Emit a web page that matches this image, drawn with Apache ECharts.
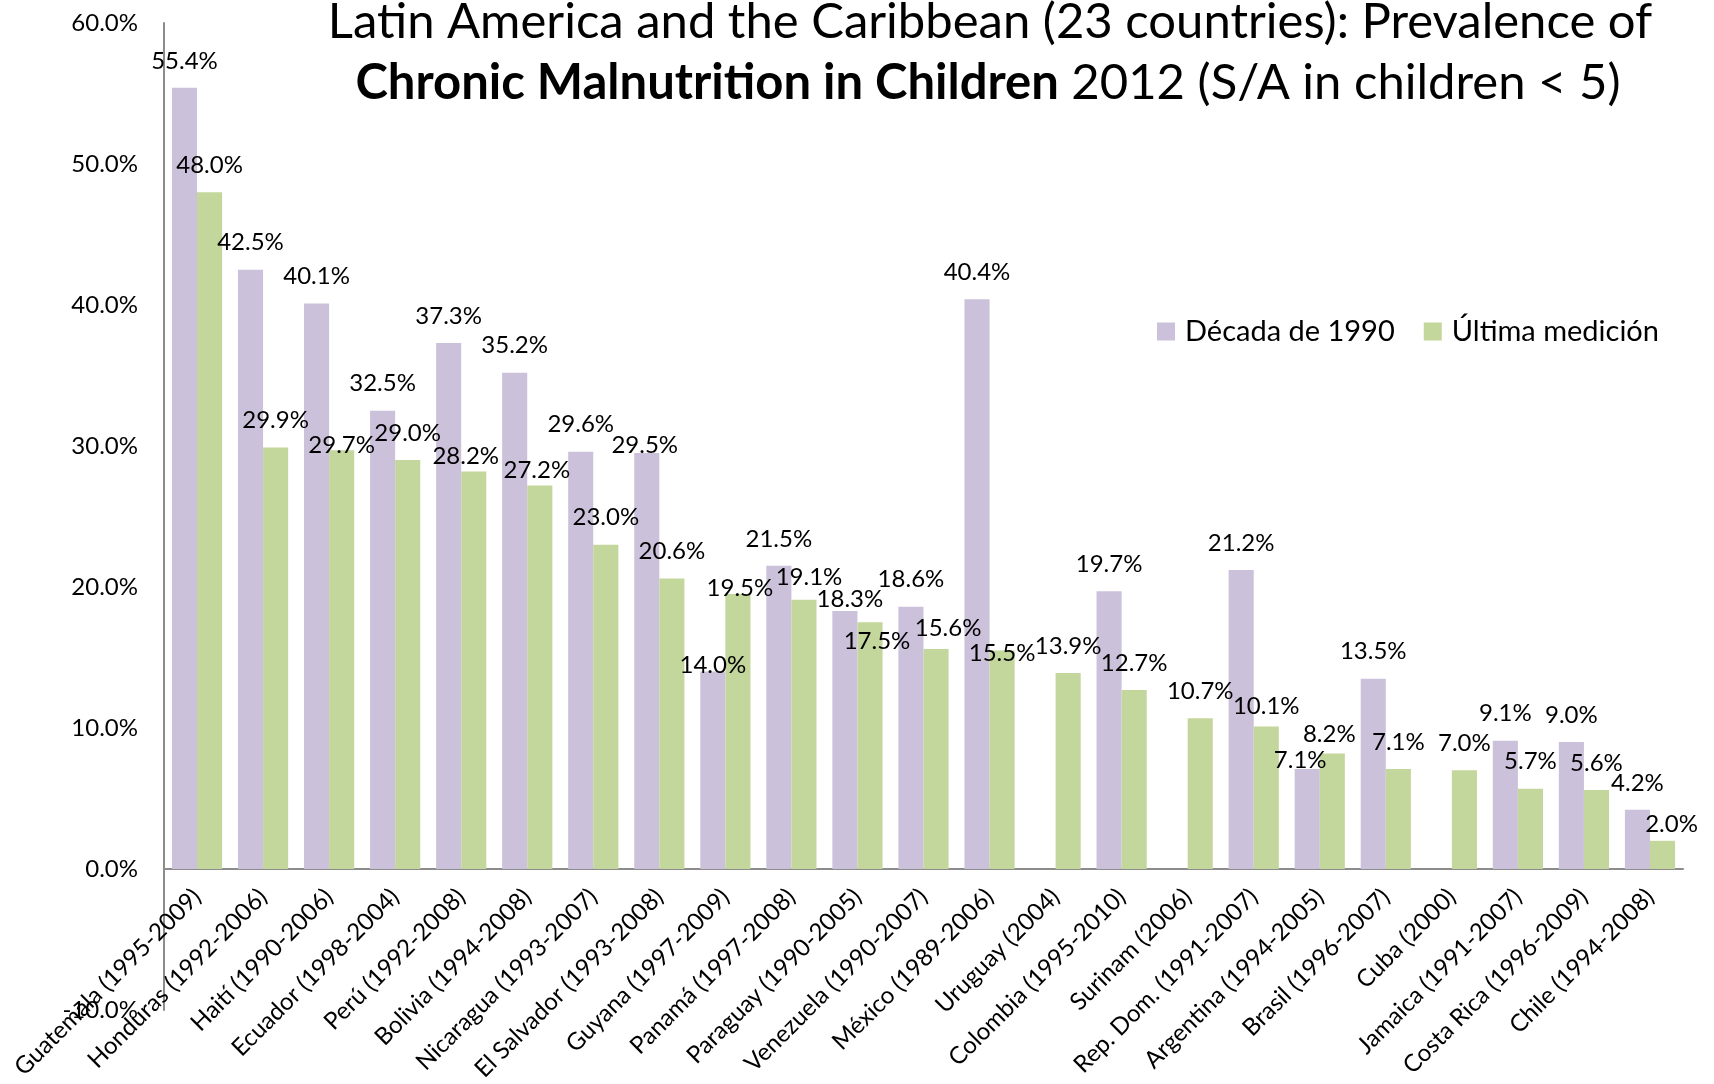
<!DOCTYPE html>
<html>
<head>
<meta charset="utf-8">
<script src="https://cdn.jsdelivr.net/npm/echarts@6/dist/echarts.min.js"></script>
<style>
html,body{margin:0;padding:0;background:#fff;}
#chart{width:1714px;height:1084px;}
</style>
</head>
<body>
<div id="chart"></div>
<script>
// ---- data ----
const categories = [
  'Guatemala (1995-2009)', 'Honduras (1992-2006)', 'Haití (1990-2006)', 'Ecuador (1998-2004)',
  'Perú (1992-2008)', 'Bolivia (1994-2008)', 'Nicaragua (1993-2007)', 'El Salvador (1993-2008)',
  'Guyana (1997-2009)', 'Panamá (1997-2008)', 'Paraguay (1990-2005)', 'Venezuela (1990-2007)',
  'México (1989-2006)', 'Uruguay (2004)', 'Colombia (1995-2010)', 'Surinam (2006)',
  'Rep. Dom. (1991-2007)', 'Argentina (1994-2005)', 'Brasil (1996-2007)', 'Cuba (2000)',
  'Jamaica (1991-2007)', 'Costa Rica (1996-2009)', 'Chile (1994-2008)'
];
const decada1990 = [55.4, 42.5, 40.1, 32.5, 37.3, 35.2, 29.6, 29.5, 14.0, 21.5, 18.3, 18.6,
  40.4, null, 19.7, null, 21.2, 7.1, 13.5, null, 9.1, 9.0, 4.2];
const ultimaMedicion = [48.0, 29.9, 29.7, 29.0, 28.2, 27.2, 23.0, 20.6, 19.5, 19.1, 17.5, 15.6,
  15.5, 13.9, 12.7, 10.7, 10.1, 8.2, 7.1, 7.0, 5.7, 5.6, 2.0];
const seriesNames = ['Década de 1990', 'Última medición'];
const yTicks = { min: -10, max: 60, interval: 10 };

// ---- styling (label nudges as in the original, keyed "series-category") ----
const labelNudges = {
  '1-2': [0, 22], '1-4': [-8, 12], '1-5': [-3, 12], '0-7': [-2, 19],
  '0-8': [0, 21], '1-8': [2, 21], '1-9': [5, 5], '0-10': [5, 15],
  '1-10': [7, 46], '1-11': [12, 6], '1-12': [0, 30], '1-16': [0, 7],
  '0-17': [-7, 18], '1-17': [-3, 8], '1-22': [9, 10]
};
const FONT = 'Lato';
const colors = ['#CCC1DA', '#C3D69B'];

function buildData(values, si) {
  return values.map((v, ci) => {
    const nudge = labelNudges[si + '-' + ci];
    if (v == null) return { value: null };
    return nudge ? { value: v, label: { offset: nudge } } : { value: v };
  });
}

const chart = echarts.init(document.getElementById('chart'), null, { renderer: 'canvas' });
const labelCfg = {
  show: true,
  position: 'top',
  distance: 15,
  color: '#000',
  fontFamily: FONT,
  fontSize: 24,
  formatter: p => p.value == null ? '' : Number(p.value).toFixed(1) + '%'
};

// the category labels sit just under the 0% line, one y-interval above the grid bottom
const GRID_TOP = 23, GRID_BOTTOM = 74, CHART_H = 1084;
const zeroToBottom = (CHART_H - GRID_TOP - GRID_BOTTOM) * (0 - yTicks.min) / (yTicks.max - yTicks.min);

chart.setOption({
  animation: false,
  backgroundColor: '#fff',
  color: colors,
  textStyle: { fontFamily: FONT },
  graphic: [
    {
      type: 'text', x: 990, y: 22,
      style: {
        text: 'Latin America and the Caribbean (23 countries): Prevalence of',
        fontFamily: FONT, fontSize: 49, fill: '#000',
        align: 'center', verticalAlign: 'middle'
      }
    },
    {
      type: 'text', x: 988, y: 83,
      style: {
        text: '{b|Chronic Malnutrition in Children}{n| 2012 (S/A in children < 5)}',
        align: 'center', verticalAlign: 'middle', fill: '#000',
        rich: {
          b: { fontFamily: FONT, fontSize: 49, fontWeight: 'bold', fill: '#000' },
          n: { fontFamily: FONT, fontSize: 49, fill: '#000' }
        }
      }
    }
  ],
  legend: {
    left: 1157, top: 317,
    padding: 0,
    itemWidth: 18, itemHeight: 18, itemGap: 29,
    icon: 'rect',
    selectedMode: false,
    textStyle: { fontFamily: FONT, fontSize: 29, color: '#000', padding: [0, 0, 0, 5] },
    data: seriesNames
  },
  grid: { left: 164, right: 31, top: GRID_TOP, bottom: GRID_BOTTOM, containLabel: false, outerBoundsMode: 'none' },
  xAxis: {
    type: 'category',
    data: categories,
    axisLine: { onZero: true, lineStyle: { color: '#8c8c8c', width: 2 } },
    axisTick: { show: false },
    axisLabel: {
      interval: 0, rotate: 45, margin: 24 - zeroToBottom,
      fontFamily: FONT, fontSize: 24, color: '#000'
    }
  },
  yAxis: {
    type: 'value',
    min: yTicks.min, max: yTicks.max, interval: yTicks.interval,
    axisLine: { show: true, lineStyle: { color: '#8c8c8c', width: 2 } },
    axisTick: { show: false },
    splitLine: { show: false },
    axisLabel: {
      margin: 26, fontFamily: FONT, fontSize: 24, color: '#000',
      formatter: v => v.toFixed(1) + '%'
    }
  },
  series: [
    {
      name: seriesNames[0], type: 'bar', barGap: '0%', barCategoryGap: '24%',
      itemStyle: { color: colors[0] },
      label: labelCfg,
      data: buildData(decada1990, 0)
    },
    {
      name: seriesNames[1], type: 'bar', barGap: '0%', barCategoryGap: '24%',
      itemStyle: { color: colors[1] },
      label: labelCfg,
      data: buildData(ultimaMedicion, 1)
    }
  ]
});
</script>
</body>
</html>
